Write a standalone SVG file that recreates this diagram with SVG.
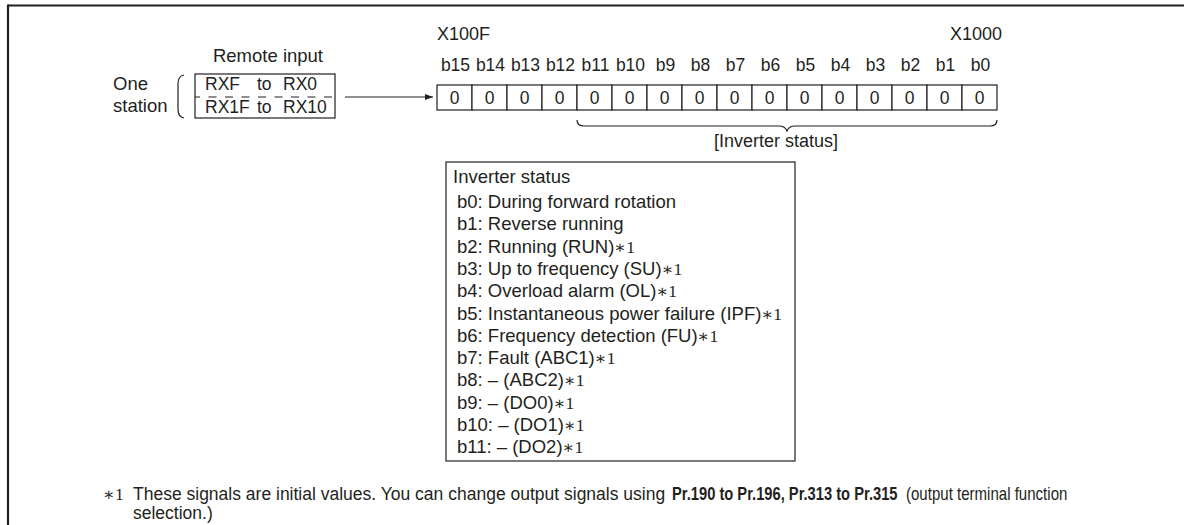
<svg xmlns="http://www.w3.org/2000/svg" width="1184" height="525" viewBox="0 0 1184 525">
<style>
text{font-family:"Liberation Sans",Arial,sans-serif;font-size:17.5px;fill:#231f20}
.l{font-size:18.5px}
.m{font-size:18px}
.s{font-family:"Liberation Serif","DejaVu Serif",serif;font-size:17.5px}
.c{text-anchor:middle}
.ln{stroke:#231f20;fill:none;stroke-width:1.2}
.cell{fill:#fff;stroke:#231f20;stroke-width:1.2}
.b{font-weight:bold}
</style>
<defs>
<marker id="ah" markerWidth="8" markerHeight="6" refX="8" refY="3" orient="auto" markerUnits="userSpaceOnUse">
<path d="M0,0 L8,3 L0,6 Z" fill="#231f20"/>
</marker>
</defs>
<rect width="1184" height="525" fill="#fff"/>
<g id="frame">
<line x1="8" y1="5.5" x2="1184" y2="5.5" stroke="#231f20" stroke-width="2.2"/>
<line x1="8" y1="4.4" x2="8" y2="525" stroke="#231f20" stroke-width="2.2"/>
</g>
<g id="remote">
<text x="268" y="62" class="c l">Remote input</text>
<text x="113" y="90" class="l">One</text>
<text x="113" y="112" class="l">station</text>
<path class="ln" d="M184,75 Q178,76 178,84 L178,109 Q178,117 184,118"/>
<rect x="195" y="74" width="140" height="44" class="ln"/>
<line x1="195" y1="97" x2="335" y2="97" class="ln" stroke-dasharray="8,8.5" stroke-dashoffset="3"/>
<g class="m">
<text x="205" y="90">RXF</text><text x="257" y="90">to</text><text x="283" y="90">RX0</text>
<text x="205" y="113">RX1F</text><text x="257" y="113">to</text><text x="283" y="113">RX10</text>
</g>
</g>
<g id="connectors">
<line x1="345" y1="97" x2="433" y2="97" class="ln" marker-end="url(#ah)"/>
</g>
<g id="register">
<text x="437" y="40" class="m">X100F</text>
<text x="1002" y="40" class="m" style="text-anchor:end">X1000</text>
<g class="c">
<text x="455.5" y="71">b15</text><text x="490.5" y="71">b14</text><text x="525.5" y="71">b13</text><text x="560.5" y="71">b12</text>
<text x="595.5" y="71">b11</text><text x="630.5" y="71">b10</text><text x="665.5" y="71">b9</text><text x="700.5" y="71">b8</text>
<text x="735.5" y="71">b7</text><text x="770.5" y="71">b6</text><text x="805.5" y="71">b5</text><text x="840.5" y="71">b4</text>
<text x="875.5" y="71">b3</text><text x="910.5" y="71">b2</text><text x="945.5" y="71">b1</text><text x="980.5" y="71">b0</text>
</g>
<rect class="cell" x="437" y="85" width="35" height="25"/><rect class="cell" x="472" y="85" width="35" height="25"/>
<rect class="cell" x="507" y="85" width="35" height="25"/><rect class="cell" x="542" y="85" width="35" height="25"/>
<rect class="cell" x="577" y="85" width="35" height="25"/><rect class="cell" x="612" y="85" width="35" height="25"/>
<rect class="cell" x="647" y="85" width="35" height="25"/><rect class="cell" x="682" y="85" width="35" height="25"/>
<rect class="cell" x="717" y="85" width="35" height="25"/><rect class="cell" x="752" y="85" width="35" height="25"/>
<rect class="cell" x="787" y="85" width="35" height="25"/><rect class="cell" x="822" y="85" width="35" height="25"/>
<rect class="cell" x="857" y="85" width="35" height="25"/><rect class="cell" x="892" y="85" width="35" height="25"/>
<rect class="cell" x="927" y="85" width="35" height="25"/><rect class="cell" x="962" y="85" width="35" height="25"/>
<g class="c">
<text x="454.5" y="104">0</text><text x="489.5" y="104">0</text><text x="524.5" y="104">0</text><text x="559.5" y="104">0</text>
<text x="594.5" y="104">0</text><text x="629.5" y="104">0</text><text x="664.5" y="104">0</text><text x="699.5" y="104">0</text>
<text x="734.5" y="104">0</text><text x="769.5" y="104">0</text><text x="804.5" y="104">0</text><text x="839.5" y="104">0</text>
<text x="874.5" y="104">0</text><text x="909.5" y="104">0</text><text x="944.5" y="104">0</text><text x="979.5" y="104">0</text>
</g>
<path class="ln" d="M577,120 Q577,126 584,126 L779,126 Q785,126 787,131 Q789,126 795,126 L990,126 Q997,126 997,120"/>
<text x="714" y="147" class="m">[Inverter status]</text>
</g>
<g id="status" class="l">
<rect x="446" y="162" width="349" height="299" class="ln"/>
<text x="453" y="183" class="l">Inverter status</text>
<text x="457" y="208" class="l">b0: During forward rotation</text>
<text x="457" y="230.3" class="l">b1: Reverse running</text>
<text x="457" y="252.6" class="l">b2: Running (RUN)<tspan class="s">∗1</tspan></text>
<text x="457" y="274.9" class="l">b3: Up to frequency (SU)<tspan class="s">∗1</tspan></text>
<text x="457" y="297.2" class="l">b4: Overload alarm (OL)<tspan class="s">∗1</tspan></text>
<text x="457" y="319.5" class="l">b5: Instantaneous power failure (IPF)<tspan class="s">∗1</tspan></text>
<text x="457" y="341.8" class="l">b6: Frequency detection (FU)<tspan class="s">∗1</tspan></text>
<text x="457" y="364.1" class="l">b7: Fault (ABC1)<tspan class="s">∗1</tspan></text>
<text x="457" y="386.4" class="l">b8: – (ABC2)<tspan class="s">∗1</tspan></text>
<text x="457" y="408.7" class="l">b9: – (DO0)<tspan class="s">∗1</tspan></text>
<text x="457" y="431" class="l">b10: – (DO1)<tspan class="s">∗1</tspan></text>
<text x="457" y="453.3" class="l">b11: – (DO2)<tspan class="s">∗1</tspan></text>
</g>
<g id="footnote">
<text x="103" y="500" class="s">∗1</text>
<text x="133" y="500">These signals are initial values. You can change output signals using</text>
<text transform="translate(672 500) scale(0.84 1)" class="b">Pr.190 to Pr.196, Pr.313 to Pr.315</text>
<text transform="translate(906 500) scale(0.86 1)">(output terminal function</text>
<text x="133" y="519">selection.)</text>
</g>
</svg>
